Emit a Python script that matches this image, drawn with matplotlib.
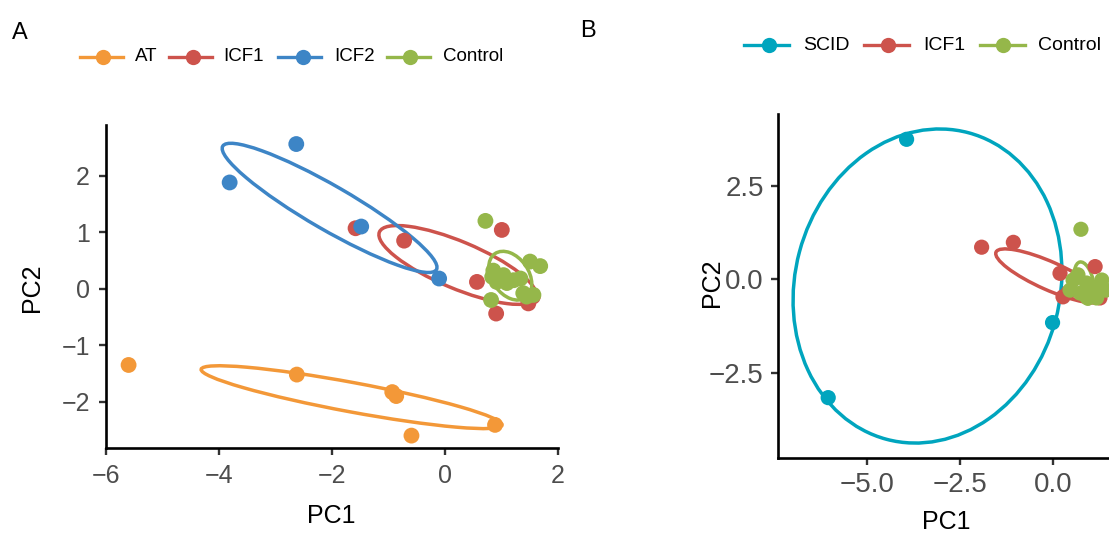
import matplotlib
matplotlib.use("Agg")
import matplotlib.pyplot as plt
from matplotlib.patches import Ellipse
from matplotlib.lines import Line2D

plt.rcParams['font.family'] = ['Liberation Sans', 'DejaVu Sans']

# ---------------- data: panel A ----------------
groups_A = ["AT", "ICF1", "ICF2", "Control"]
colors_A = ["#F39838", "#CD534C", "#3D85C6", "#95B74A"]

at_x = [-5.60, -2.62, -0.93, -0.86, 0.89, -0.59]
at_y = [-1.35, -1.52, -1.83, -1.90, -2.41, -2.60]
icf1A_x = [-1.58, -0.72, 1.01, 0.57, 0.91, 1.48, 1.56]
icf1A_y = [1.07, 0.85, 1.04, 0.12, -0.44, -0.26, -0.14]
icf2_x = [-2.63, -3.81, -1.48, -0.10]
icf2_y = [2.56, 1.88, 1.10, 0.18]
ctrlA_x = [0.72, 0.82, 0.86, 1.04, 0.92, 1.22, 1.34, 1.51, 1.69, 1.39, 1.57, 1.45, 1.10, 0.84]
ctrlA_y = [1.20, -0.20, 0.32, 0.24, 0.12, 0.15, 0.18, 0.48, 0.40, -0.08, -0.11, -0.14, 0.10, 0.21]

# ellipse parameters: centre x, centre y, major, minor, angle
ellA_cx = [-1.65, 0.23, -2.04, 1.16]
ellA_cy = [-1.92, 0.42, 1.43, 0.23]
ellA_w = [5.42, 3.01, 4.37, 0.95]
ellA_h = [0.52, 0.83, 0.78, 0.65]
ellA_ang = [-10.5, -22.8, -30.0, -55.0]

# ---------------- data: panel B ----------------
groups_B = ["SCID", "ICF1", "Control"]
colors_B = ["#00A5BE", "#CD534C", "#95B74A"]

scid_x = [-3.93, -6.03, -0.02]
scid_y = [3.75, -3.17, -1.16]
icf1B_x = [-1.92, -1.07, 0.18, 1.12, 0.26, 1.25, 0.40]
icf1B_y = [0.86, 0.99, 0.16, 0.34, -0.47, -0.50, -0.35]
ctrlB_x = [0.74, 0.53, 0.45, 0.72, 0.89, 1.06, 1.30, 1.16, 0.66, 0.93, 1.41]
ctrlB_y = [1.34, -0.02, -0.29, -0.37, -0.10, -0.23, -0.02, -0.50, 0.12, -0.50, -0.29]

ellB_cx = [-3.37, -0.10, 0.83]
ellB_cy = [-0.18, 0.09, -0.10]
ellB_w = [7.1, 3.14, 0.50]
ellB_h = [8.5, 0.75, 1.15]
ellB_ang = [-15.0, -24.0, 12.0]

xticks_A = [-6, -4, -2, 0, 2]
yticks_A = [-2, -1, 0, 1, 2]
xticks_B = [-5.0, -2.5, 0.0]
yticks_B = [-2.5, 0.0, 2.5]

W, H = 1109, 535
fig = plt.figure(figsize=(W / 100, H / 100), dpi=100)


def fx(px):
    return px / W


def fy(py):
    return 1 - py / H


def style_axes(ax, tick_size, pad):
    for s in ["top", "right"]:
        ax.spines[s].set_visible(False)
    for s in ["left", "bottom"]:
        ax.spines[s].set_linewidth(1.9)
        ax.spines[s].set_color("black")
    ax.tick_params(axis="both", length=5, width=1.7, color="#333333",
                   labelcolor="#4D4D4D", labelsize=tick_size, pad=pad)


# ---------------- panel A ----------------
leftA, rightA, topA, botA = 106.0, 557.7, 125.0, 447.7
axA = fig.add_axes([fx(leftA), fy(botA), fx(rightA) - fx(leftA), fy(topA) - fy(botA)])
axA.set_xlim(-6, 2)
axA.set_ylim(-2.814, 2.897)
style_axes(axA, 18, 6.5)

dataA = [(at_x, at_y), (icf1A_x, icf1A_y), (icf2_x, icf2_y), (ctrlA_x, ctrlA_y)]
for i, (xs, ys) in enumerate(dataA):
    axA.add_patch(Ellipse((ellA_cx[i], ellA_cy[i]), ellA_w[i], ellA_h[i], angle=ellA_ang[i],
                          fill=False, edgecolor=colors_A[i], lw=2.5, zorder=2))
for i, (xs, ys) in enumerate(dataA):
    axA.scatter(xs, ys, s=130, color=colors_A[i], edgecolors="none", zorder=3)

axA.set_xticks(xticks_A)
axA.set_xticklabels(["\u2212" + str(abs(t)) if t < 0 else str(t) for t in xticks_A])
axA.set_yticks(yticks_A)
axA.set_yticklabels(["\u2212" + str(abs(t)) if t < 0 else str(t) for t in yticks_A])
axA.set_xlabel("PC1", fontsize=18)
axA.set_ylabel("PC2", fontsize=18)
axA.xaxis.set_label_coords(0.498, -0.175)
axA.yaxis.set_label_coords(-0.137, 0.495)

# ---------------- panel B ----------------
x0B, xpB = 1053.3, 37.33
y0B = 279.3
leftB, rightB = 777.7, 1113.0
topB, botB = 114.0, 457.7
axB = fig.add_axes([fx(leftB), fy(botB), fx(rightB) - fx(leftB), fy(topB) - fy(botB)])
axB.set_xlim((leftB - x0B) / xpB, (rightB - x0B) / xpB)
axB.set_ylim((y0B - botB) / xpB, (y0B - topB) / xpB)
style_axes(axB, 20, 5)

dataB = [(scid_x, scid_y), (icf1B_x, icf1B_y), (ctrlB_x, ctrlB_y)]
for i, (xs, ys) in enumerate(dataB):
    axB.add_patch(Ellipse((ellB_cx[i], ellB_cy[i]), ellB_w[i], ellB_h[i], angle=ellB_ang[i],
                          fill=False, edgecolor=colors_B[i], lw=2.5, zorder=2))
for i, (xs, ys) in enumerate(dataB):
    axB.scatter(xs, ys, s=120, color=colors_B[i], edgecolors="none", zorder=3)

axB.set_xticks(xticks_B)
axB.set_xticklabels(["\u2212%.1f" % abs(t) if t < 0 else "%.1f" % t for t in xticks_B])
axB.set_yticks(yticks_B)
axB.set_yticklabels(["\u2212%.1f" % abs(t) if t < 0 else "%.1f" % t for t in yticks_B])
axB.set_xlabel("PC1", fontsize=18)
axB.set_ylabel("PC2", fontsize=18)
axB.xaxis.set_label_coords(0.502, -0.152)
axB.yaxis.set_label_coords(-0.160, 0.508)

# ---------------- legends ----------------
def legend_item(x_line0, x_line1, x_dot, x_text, y, color, label, fs):
    fig.add_artist(Line2D([fx(x_line0), fx(x_line1)], [fy(y), fy(y)], transform=fig.transFigure,
                          color=color, lw=2.4))
    fig.add_artist(Line2D([fx(x_dot)], [fy(y)], transform=fig.transFigure, marker="o",
                          markersize=11, color=color, markeredgewidth=0))
    fig.text(fx(x_text), fy(y), label, fontsize=fs, va="center", ha="left", color="black")


legA = [(80, 123, 103, 135), (169, 212, 193, 223), (278, 321, 303, 334), (387, 430, 410, 443)]
for (a, b, c, d), col, lab in zip(legA, colors_A, groups_A):
    legend_item(a, b, c, d, 57, col, lab, 13.5)

legB = [(744, 789, 769, 803), (864, 909, 888, 923), (980, 1025, 1003, 1038)]
for (a, b, c, d), col, lab in zip(legB, colors_B, groups_B):
    legend_item(a, b, c, d, 45, col, lab, 14)

fig.text(fx(12), fy(33), "A", fontsize=17, va="center", ha="left")
fig.text(fx(580), fy(31), "B", fontsize=17, va="center", ha="left")

fig.savefig("out.png", dpi=100)
